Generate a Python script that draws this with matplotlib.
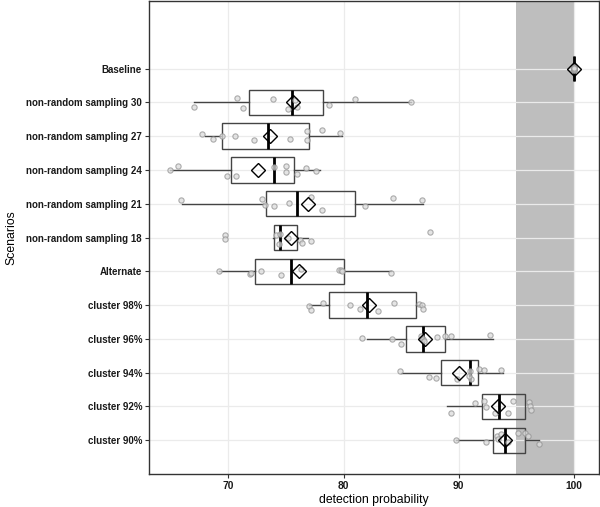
import matplotlib
matplotlib.use("Agg")
import matplotlib.pyplot as plt
from matplotlib import font_manager
import numpy as np

# narrow face if present, to match the condensed labels of the original
names = {f.name for f in font_manager.fontManager.ttflist}
if 'Liberation Sans Narrow' in names:
    plt.rcParams['font.family'] = ['Liberation Sans Narrow', 'DejaVu Sans']
    tick_size, label_size = 9.0, 10.5
else:
    plt.rcParams['font.family'] = ['Liberation Sans', 'DejaVu Sans']
    tick_size, label_size = 7.0, 8.8

# scenarios, listed top to bottom as shown
scenarios = ['Baseline', 'non-random sampling 30', 'non-random sampling 27',
             'non-random sampling 24', 'non-random sampling 21', 'non-random sampling 18',
             'Alternate', 'cluster 98%', 'cluster 96%', 'cluster 94%', 'cluster 92%', 'cluster 90%']

# box statistics
q1 = [100, 71.76, 69.45, 70.26, 73.27, 74.0, 72.3, 78.76, 85.47, 88.47, 92.0, 93.0]
medians = [100, 75.5, 73.47, 74.0, 76.0, 74.45, 75.45, 82.0, 86.9, 90.96, 93.5, 94.0]
q3 = [100, 78.24, 77.0, 75.7, 81.0, 76.0, 80.0, 86.3, 88.8, 91.7, 95.73, 95.73]
whisk_lo = [100, 67.0, 67.98, 64.9, 66.0, 73.9, 69.2, 77.0, 82.0, 84.97, 89.0, 89.75]
whisk_hi = [100, 85.9, 79.9, 77.95, 86.9, 76.9, 84.1, 86.85, 93.0, 93.9, 95.8, 97.0]
means = [100, 75.6, 73.6, 72.6, 76.9, 75.4, 76.1, 82.2, 87.05, 90.0, 93.4, 94.0]

# individual replicate values
obs_baseline = [100.0] * 10
obs_nrs30 = [67.0, 70.75, 71.3, 73.85, 75.2, 75.8, 75.96, 78.7, 80.96, 85.9]
obs_nrs27 = [67.7, 68.7, 69.4, 70.6, 72.25, 75.35, 76.8, 76.8, 78.1, 79.7]
obs_nrs24 = [64.9, 65.6, 69.9, 70.7, 75.0, 75.0, 76.0, 76.7, 77.6, 74.0]
obs_nrs21 = [65.9, 72.9, 73.2, 74.0, 75.3, 77.2, 78.15, 81.9, 84.3, 86.8]
obs_nrs18 = [69.7, 69.7, 74.1, 74.4, 74.5, 75.2, 76.2, 76.4, 77.2, 87.5]
obs_alt = [69.2, 71.9, 72.0, 72.8, 74.6, 76.3, 79.6, 79.8, 79.9, 84.1]
obs_c98 = [77.0, 77.2, 78.2, 80.6, 81.4, 83.0, 84.4, 86.6, 86.8, 86.9]
obs_c96 = [81.6, 84.2, 85.0, 86.7, 86.9, 88.1, 88.8, 89.3, 92.7, 87.0]
obs_c94 = [84.9, 87.4, 88.0, 89.9, 91.0, 91.1, 91.8, 92.2, 93.7, 90.9]
obs_c92 = [89.3, 91.4, 92.2, 92.4, 93.2, 94.3, 94.75, 96.1, 96.2, 96.3]
obs_c90 = [89.75, 92.4, 93.3, 93.7, 94.3, 95.2, 95.8, 96.0, 97.0, 93.4]
observations = [obs_baseline, obs_nrs30, obs_nrs27, obs_nrs24, obs_nrs21, obs_nrs18,
                obs_alt, obs_c98, obs_c96, obs_c94, obs_c92, obs_c90]

# vertical jitter of each point as seen in the picture (category units)
jit_baseline = [0.05, -0.05, 0.02, -0.02, 0.0, 0.04, -0.04, 0.01, -0.01, 0.03]
jit_nrs30 = [-0.15, 0.12, -0.18, 0.09, -0.2, 0.06, -0.15, -0.09, 0.09, 0.0]
jit_nrs27 = [0.05, -0.08, 0.0, 0.0, -0.12, -0.08, 0.15, -0.12, 0.17, 0.1]
jit_nrs24 = [0.0, 0.11, -0.18, -0.18, 0.11, -0.07, -0.11, 0.05, -0.04, 0.08]
jit_nrs21 = [0.12, 0.14, -0.05, -0.07, 0.02, 0.2, -0.18, -0.07, 0.17, 0.12]
jit_nrs18 = [0.06, -0.03, 0.06, -0.18, 0.1, 0.0, -0.08, -0.15, -0.09, 0.15]
jit_alt = [0.0, -0.09, -0.06, 0.0, -0.11, 0.08, 0.03, 0.03, 0.01, -0.05]
jit_c98 = [-0.04, -0.14, 0.05, 0.0, -0.11, -0.17, 0.06, 0.04, 0.0, -0.11]
jit_c96 = [0.02, 0.0, -0.15, 0.07, 0.0, 0.05, 0.09, 0.07, 0.12, -0.06]
jit_c94 = [0.05, -0.12, -0.16, -0.18, 0.05, -0.18, 0.11, 0.08, 0.08, -0.1]
jit_c92 = [-0.2, 0.1, 0.15, -0.02, -0.2, -0.2, 0.15, 0.12, 0.0, -0.1]
jit_c90 = [0.0, -0.06, 0.12, 0.18, -0.05, 0.2, 0.2, 0.12, -0.12, 0.05]
jitters = [jit_baseline, jit_nrs30, jit_nrs27, jit_nrs24, jit_nrs21, jit_nrs18,
           jit_alt, jit_c98, jit_c96, jit_c94, jit_c92, jit_c90]

band = (95, 100)

fig = plt.figure(figsize=(6.0, 5.07), dpi=100)
ax = fig.add_axes([149 / 600, 33 / 507, 450 / 600, 473 / 507])

n = len(scenarios)
positions = np.arange(n, 0, -1)

# shaded target band
ax.axvspan(band[0], band[1], color='#bebebe', zorder=0.5, lw=0)

stats = []
for i in range(n):
    stats.append(dict(label=scenarios[i], q1=q1[i], med=medians[i], q3=q3[i],
                      whislo=whisk_lo[i], whishi=whisk_hi[i], fliers=[]))

ax.bxp(stats, positions=positions, vert=False, widths=0.75, showcaps=False,
       patch_artist=True, manage_ticks=False,
       boxprops=dict(facecolor='none', edgecolor='#444444', linewidth=1.0),
       whiskerprops=dict(color='#444444', linewidth=1.0),
       medianprops=dict(color='black', linewidth=2.0), zorder=3)

# jittered points
for i in range(n):
    ys = positions[i] + np.array(jitters[i])
    ax.plot(observations[i], ys, 'o', ms=3.8, mfc='#dcdcdc', mec='#939393',
            mew=0.8, alpha=0.75, ls='none', zorder=4)

# means
ax.plot(means, positions, 'D', ms=7.5, mfc='none', mec='black', mew=1.0,
        ls='none', zorder=5)

ax.set_xlim(63.1, 102.2)
ax.set_ylim(0.0, 14.0)
ax.set_yticks(positions)
ax.set_yticklabels(scenarios, fontweight='bold', fontsize=tick_size)
ax.set_xticks([70, 80, 90, 100])
ax.set_xticklabels(['70', '80', '90', '100'], fontweight='bold', fontsize=tick_size + 0.4)
ax.tick_params(axis='both', length=3, width=0.8, color='#333333', labelcolor='#1a1a1a', pad=2)
ax.grid(True, color='#ebebeb', linewidth=0.9, zorder=0)
ax.set_axisbelow(True)
for s in ax.spines.values():
    s.set_color('#333333')
    s.set_linewidth(1.0)

ax.set_xlabel('detection probability', fontsize=label_size, labelpad=2)
ax.set_ylabel('Scenarios', fontsize=label_size)
ax.yaxis.set_label_coords(-0.292, 0.5)

fig.savefig('out.png', dpi=100)
